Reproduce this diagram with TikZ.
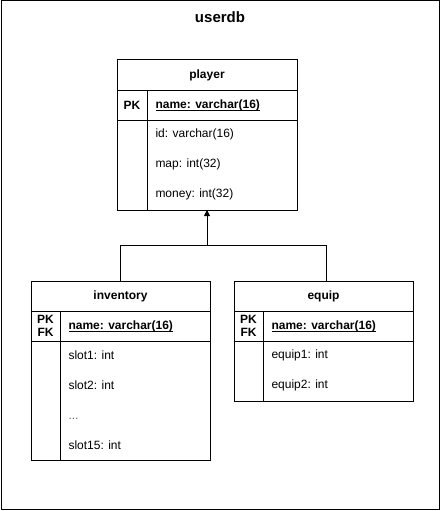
\documentclass[tikz,border=0pt]{standalone}
\usepackage{fontspec}
\setmainfont{Liberation Sans}
\usetikzlibrary{arrows.meta}
\begin{document}
\begin{tikzpicture}[x=1pt,y=-1pt,line width=1pt,
  hdr/.style={font=\fontsize{12}{14}\selectfont\bfseries,anchor=center,inner sep=0},
  keytxt/.style={font=\fontsize{12}{14}\selectfont\bfseries,anchor=west,inner sep=0},
  pktxt/.style={font=\fontsize{12}{12.5}\selectfont\bfseries,anchor=center,inner sep=0,align=center},
  field/.style={font=\fontsize{12}{14}\selectfont,anchor=west,inner sep=0},
  link/.style={draw=black,line width=1pt}]
\useasboundingbox (0,0) rectangle (441,511);
\fill[white] (0,0) rectangle (441,511);
% database container
\draw (1,0.5) rectangle (439.5,509.5);
\node[font=\fontsize{15}{17}\selectfont\bfseries,inner sep=0] (title) at (220,17) {userdb};

% player table
\draw (117,60) rectangle (297,210);
\draw (117,90) -- (297,90);
\draw (117,120) -- (297,120);
\draw (147,90) -- (147,210);
\node[hdr] (player) at (207,75) {player};
\node[pktxt] (playerpk) at (132,105) {PK};
\node[keytxt] (playerkey) at (155,105) {\underbar{name: varchar(16)}};
\node[field] (p1) at (155,134) {id: varchar(16)};
\node[field] (p2) at (155,164) {map: int(32)};
\node[field] (p3) at (155,194) {money: int(32)};
\coordinate (playerbot) at (207,210);

% inventory table
\draw (31,281) rectangle (210,460);
\draw (31,311) -- (210,311);
\draw (31,341) -- (210,341);
\draw (60,311) -- (60,460);
\node[hdr] (inventory) at (120.5,296) {inventory};
\node[pktxt] (invpk) at (45.5,326) {PK\\FK};
\node[keytxt] (invkey) at (68,326) {\underbar{name: varchar(16)}};
\node[field] (i1) at (68,355) {slot1: int};
\node[field] (i2) at (68,385) {slot2: int};
\node[field,text=black!60,anchor=base west] (i3) at (68,419) {...};
\node[field] (i4) at (68,445) {slot15: int};
\coordinate (invtop) at (120.5,281);

% equip table
\draw (234,281) rectangle (413,401);
\draw (234,311) -- (413,311);
\draw (234,341) -- (413,341);
\draw (263,311) -- (263,401);
\node[hdr] (equip) at (323.5,296) {equip};
\node[pktxt] (eqpk) at (248.5,326) {PK\\FK};
\node[keytxt] (eqkey) at (271,326) {\underbar{name: varchar(16)}};
\node[field] (e1) at (271,355) {equip1: int};
\node[field] (e2) at (271,385) {equip2: int};
\coordinate (eqtop) at (326,281);

% foreign-key relations
\coordinate (join) at (207,245);
\draw[link] (invtop) -- (120.5,245) -- (326,245) -- (eqtop);
\draw[link,-{Triangle[length=6pt,width=6pt]}] (join) -- (playerbot);
\end{tikzpicture}
\end{document}
